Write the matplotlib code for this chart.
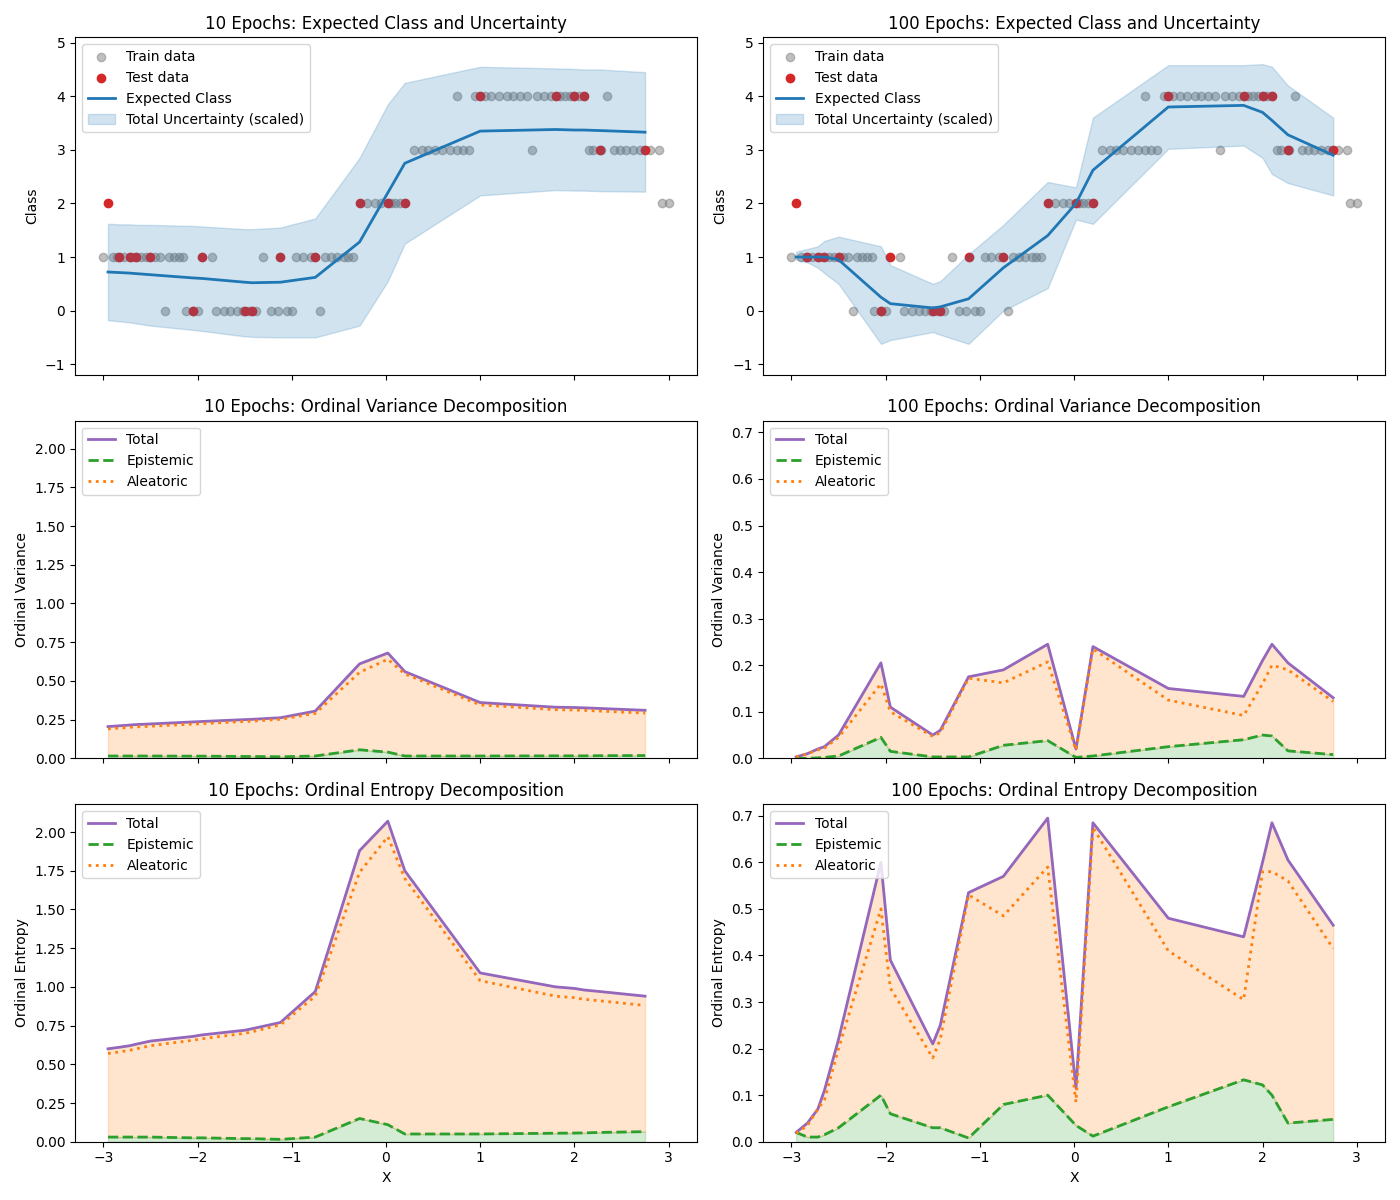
import numpy as np
import matplotlib.pyplot as plt

# test set (shared by both models)
x_test = [-2.95, -2.83, -2.72, -2.65, -2.5, -2.05, -1.95, -1.5, -1.42, -1.12,
          -0.75, -0.28, 0.02, 0.2, 1.0, 1.8, 2.0, 2.1, 2.27, 2.75]
y_test = [2, 1, 1, 1, 1, 0, 1, 0, 0, 1, 1, 2, 2, 2, 4, 4, 4, 4, 3, 3]

# train set
x_train = [-3.0, -2.9, -2.85, -2.78, -2.7, -2.6, -2.55, -2.45, -2.4, -2.3, -2.25, -2.2, -2.15, -1.85,
           -2.35, -2.12, -2.05, -2.0, -1.8, -1.72, -1.65, -1.58, -1.52, -1.45, -1.38, -1.22, -1.15, -1.05, -1.0,
           -1.3, -0.95, -0.88, -0.8, -0.65, -0.58, -0.52, -0.45, -0.4, -0.35, -0.7,
           -0.2, -0.12, -0.05, 0.05, 0.1, 0.15,
           0.3, 0.38, 0.45, 0.52, 0.6, 0.68, 0.75, 0.82, 0.88,
           0.75, 0.95, 1.05, 1.12, 1.2, 1.28, 1.35, 1.42, 1.5, 1.55,
           1.6, 1.68, 1.75, 1.85, 1.9, 1.95, 2.05,
           2.15, 2.2, 2.28, 2.42, 2.48, 2.55, 2.62, 2.7, 2.8, 2.9, 2.35, 2.93, 3.0]
y_train = [1] * 14 + [0] * 15 + [1] * 10 + [0] + [2] * 6 + [3] * 9 + [4] * 9 + [3] + [4] * 7 + [3] * 10 + [4, 2, 2]

# 10 epochs
mean_10 = [0.72, 0.71, 0.70, 0.69, 0.67, 0.61, 0.60, 0.53, 0.52, 0.53,
           0.62, 1.28, 2.2, 2.75, 3.35, 3.38, 3.37, 3.37, 3.36, 3.33]
lo_10 = [-0.18, -0.2, -0.22, -0.24, -0.28, -0.36, -0.38, -0.48, -0.49, -0.5,
         -0.5, -0.28, 0.55, 1.25, 2.15, 2.25, 2.24, 2.24, 2.23, 2.22]
hi_10 = [1.62, 1.61, 1.61, 1.6, 1.6, 1.58, 1.57, 1.52, 1.52, 1.55,
         1.72, 2.85, 3.85, 4.25, 4.55, 4.52, 4.51, 4.5, 4.5, 4.45]
var_tot_10 = [0.205, 0.21, 0.215, 0.218, 0.222, 0.235, 0.238, 0.25, 0.252, 0.262,
              0.305, 0.61, 0.68, 0.56, 0.36, 0.33, 0.328, 0.326, 0.322, 0.31]
var_epi_10 = [0.015, 0.015, 0.015, 0.015, 0.015, 0.014, 0.014, 0.012, 0.012, 0.01,
              0.015, 0.055, 0.04, 0.015, 0.015, 0.016, 0.016, 0.016, 0.017, 0.018]
var_ale_10 = [0.19, 0.195, 0.2, 0.203, 0.207, 0.221, 0.224, 0.238, 0.24, 0.252,
              0.29, 0.555, 0.64, 0.545, 0.345, 0.314, 0.312, 0.31, 0.305, 0.292]
ent_tot_10 = [0.6, 0.61, 0.62, 0.63, 0.65, 0.68, 0.69, 0.72, 0.73, 0.77,
              0.97, 1.88, 2.07, 1.75, 1.09, 1.0, 0.99, 0.98, 0.97, 0.94]
ent_epi_10 = [0.03, 0.03, 0.03, 0.03, 0.03, 0.025, 0.025, 0.02, 0.02, 0.015,
              0.03, 0.15, 0.11, 0.05, 0.05, 0.055, 0.056, 0.057, 0.06, 0.065]
ent_ale_10 = [0.57, 0.58, 0.59, 0.6, 0.62, 0.655, 0.665, 0.7, 0.71, 0.755,
              0.94, 1.74, 1.97, 1.7, 1.04, 0.94, 0.93, 0.92, 0.91, 0.88]

# 100 epochs
mean_100 = [1.0, 1.0, 1.0, 1.0, 0.95, 0.25, 0.13, 0.05, 0.07, 0.22,
            0.8, 1.4, 2.0, 2.62, 3.8, 3.83, 3.7, 3.55, 3.28, 2.9]
lo_100 = [0.95, 0.9, 0.8, 0.7, 0.5, -0.62, -0.55, -0.4, -0.45, -0.62,
          0.0, 0.42, 1.7, 1.62, 3.02, 3.08, 2.85, 2.55, 2.38, 2.15]
hi_100 = [1.1, 1.15, 1.2, 1.3, 1.38, 1.2, 0.85, 0.5, 0.55, 1.05,
          1.6, 2.4, 2.3, 3.6, 4.58, 4.58, 4.6, 4.55, 4.2, 3.6]
var_tot_100 = [0.003, 0.01, 0.02, 0.025, 0.05, 0.205, 0.11, 0.05, 0.06, 0.175,
               0.19, 0.245, 0.02, 0.24, 0.15, 0.133, 0.21, 0.245, 0.205, 0.13]
var_epi_100 = [0.0, 0.0, 0.001, 0.002, 0.005, 0.045, 0.015, 0.003, 0.003, 0.003,
               0.028, 0.038, 0.002, 0.005, 0.025, 0.04, 0.05, 0.048, 0.016, 0.008]
var_ale_100 = [0.003, 0.01, 0.018, 0.022, 0.045, 0.16, 0.1, 0.047, 0.055, 0.172,
               0.162, 0.207, 0.018, 0.235, 0.125, 0.092, 0.16, 0.2, 0.19, 0.122]
ent_tot_100 = [0.02, 0.04, 0.07, 0.11, 0.22, 0.6, 0.39, 0.21, 0.25, 0.535,
               0.57, 0.695, 0.115, 0.685, 0.48, 0.44, 0.6, 0.685, 0.605, 0.465]
ent_epi_100 = [0.02, 0.01, 0.01, 0.015, 0.03, 0.1, 0.06, 0.03, 0.03, 0.008,
               0.08, 0.1, 0.035, 0.012, 0.075, 0.133, 0.122, 0.1, 0.04, 0.048]
ent_ale_100 = [0.018, 0.035, 0.07, 0.09, 0.2, 0.5, 0.33, 0.18, 0.22, 0.53,
               0.485, 0.59, 0.085, 0.675, 0.41, 0.305, 0.58, 0.58, 0.56, 0.415]

fig, axes = plt.subplots(3, 2, figsize=(14, 12), sharex=True)
axes[1, 0].sharey(axes[2, 0])
axes[1, 1].sharey(axes[2, 1])

cols = [(10, mean_10, lo_10, hi_10, var_tot_10, var_epi_10, var_ale_10, ent_tot_10, ent_epi_10, ent_ale_10),
        (100, mean_100, lo_100, hi_100, var_tot_100, var_epi_100, var_ale_100, ent_tot_100, ent_epi_100, ent_ale_100)]

for j, (ep, mean, lo, hi, vt, ve, va, et, ee, ea) in enumerate(cols):
    ax = axes[0, j]
    ax.scatter(x_train, y_train, color="gray", alpha=0.5, label="Train data")
    ax.scatter(x_test, y_test, color="tab:red", label="Test data")
    ax.plot(x_test, mean, color="tab:blue", lw=2, label="Expected Class")
    ax.fill_between(x_test, lo, hi, color="tab:blue", alpha=0.2, label="Total Uncertainty (scaled)")
    ax.set_ylim(-1.2, 5.1)
    ax.set_ylabel("Class")
    ax.set_title(f"{ep} Epochs: Expected Class and Uncertainty")
    ax.legend(loc="upper left")

    for i, (tot, epi, ale, name) in enumerate([(vt, ve, va, "Variance"), (et, ee, ea, "Entropy")]):
        ax = axes[i + 1, j]
        ax.plot(x_test, tot, color="tab:purple", lw=2, label="Total")
        ax.plot(x_test, epi, color="tab:green", lw=2, ls="--", label="Epistemic")
        ax.plot(x_test, ale, color="tab:orange", lw=2, ls=":", label="Aleatoric")
        ax.fill_between(x_test, epi, tot, color="tab:orange", alpha=0.2)
        ax.fill_between(x_test, 0, epi, color="tab:green", alpha=0.2)
        ax.set_ylim(bottom=0)
        ax.set_ylabel(f"Ordinal {name}")
        ax.set_title(f"{ep} Epochs: Ordinal {name} Decomposition")
        ax.legend(loc="upper left")
    axes[2, j].set_xlabel("X")

axes[2, 0].set_ylim(0, 2.18)
axes[2, 1].set_ylim(0, 0.725)
axes[2, 0].set_xticks([-3, -2, -1, 0, 1, 2, 3])

plt.tight_layout()
plt.savefig("out.png", dpi=100)
